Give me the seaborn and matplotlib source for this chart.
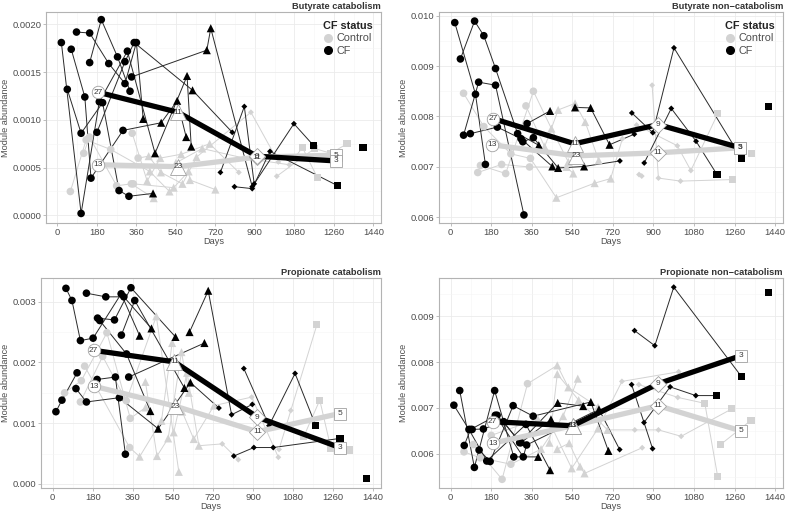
import numpy as np
import pandas as pd
import matplotlib
matplotlib.use("Agg")
import matplotlib.pyplot as plt
import seaborn as sns
from matplotlib.lines import Line2D
from matplotlib.ticker import FixedLocator, FormatStrFormatter

sns.set_theme(style="white")
plt.rcParams["font.family"] = ["Liberation Sans", "DejaVu Sans"]

# ---------------- data (days, module abundance) ----------------
# Butyrate catabolism
bc_cf = [
    [(18, .00181), (108, .00002), (191, .00119), (319, .00172), (445, .00065), (591, .00146), (610, .00072)],
    [(45, .00132), (108, .00086), (206, .00118), (281, .00026), (326, .00020), (436, .00023)],
    [(63, .00174), (125, .00124), (153, .00039), (299, .00089), (473, .00097), (546, .00120), (587, .00082)],
    [(87, .00192), (147, .00191), (234, .00159), (308, .00138), (360, .00181), (391, .00101)],
    [(147, .00160), (200, .00205), (274, .00166), (331, .00130)],
    [(180, .00087), (308, .00161), (350, .00181), (616, .00131), (797, .00087)],
    [(338, .00145), (681, .00173), (699, .00196), (888, .00030)],
    [(743, .00045), (852, .00114), (897, .00033), (1078, .00096), (1168, .00073)],
    [(807, .00030), (888, .00028), (969, .00067), (1278, .00031)],
    [(1393, .00071)],
]
bc_ctrl = [
    [(59, .00025), (131, .00079), (243, .00069), (421, .00046), (511, .00025)],
    [(120, .00065), (146, .00082), (270, .00031), (337, .00033), (439, .00018)],
    [(341, .00086), (409, .00036), (469, .00060), (564, .00064), (694, .00075), (827, .00045)],
    [(368, .00060), (416, .00062), (472, .00045), (570, .00033), (634, .00061), (882, .00108), (1007, .00056)],
    [(346, .00033), (530, .00029), (598, .00046), (604, .00037), (720, .00027)],
    [(540, .00055), (660, .00070), (850, .00060), (1057, .00053), (1117, .00071), (1184, .00040)],
    [(1000, .00041), (1172, .00070), (1247, .00065), (1320, .00075)],
]
bc_cf_mean_days = [185, 549, 909, 1270]
bc_cf_mean = [.00129, .00108, .00062, .00057]
bc_ctrl_mean_days = [185, 549, 909, 1270]
bc_ctrl_mean = [.00053, .00051, .00061, .00063]

# Butyrate non-catabolism
bn_cf = [
    [(18, .00986), (110, .00844), (154, .00705)],
    [(43, .00914), (106, .00989), (147, .00960), (199, .00895), (297, .00766), (391, .00743)],
    [(57, .00763), (124, .00868), (199, .00862), (325, .00605)],
    [(87, .00766), (207, .00779), (312, .00756), (451, .00701)],
    [(320, .00750), (367, .00758), (477, .00698), (592, .00701), (751, .00712)],
    [(339, .00786), (441, .00811)],
    [(552, .00818), (621, .00817), (705, .00744), (815, .00765)],
    [(804, .00807), (897, .00768), (991, .00936), (1291, .00717)],
    [(859, .00708), (979, .00816), (1089, .00751), (1182, .00685)],
    [(1410, .00819)],
]
bn_ctrl = [
    [(57, .00846), (147, .00780), (267, .00726), (354, .00717), (469, .00639), (639, .00668), (710, .00677), (762, .00756)],
    [(120, .00689), (226, .00705), (350, .00700), (514, .00700), (544, .00687)],
    [(132, .00703), (244, .00687), (367, .00850), (447, .00776), (522, .00710)],
    [(334, .00821), (417, .00740), (477, .00813), (552, .00826), (597, .00789), (657, .00713)],
    [(825, .00783), (1006, .00742), (1066, .00693), (1186, .00806)],
    [(836, .00685), (848, .00682)],
    [(894, .00862), (922, .00678), (1020, .00672), (1249, .00675)],
    [(1335, .00726)],
]
bn_cf_mean_days = [187, 550, 921, 1285]
bn_cf_mean = [.00796, .00746, .00784, .00738]
bn_ctrl_mean_days = [183, 555, 921, 1285]
bn_ctrl_mean = [.00744, .00722, .00728, .00738]

# Propionate catabolism
pc_cf = [
    [(60, .00322), (87, .00302), (125, .00236), (182, .00240), (308, .00313), (391, .00244)],
    [(152, .00314), (239, .00308), (320, .00308), (444, .00256)],
    [(202, .00273), (278, .00270), (352, .00323), (552, .00242)],
    [(212, .00269), (332, .00214), (439, .00120)],
    [(309, .00245), (369, .00302), (592, .00158)],
    [(15, .00119), (42, .00138), (110, .00183)],
    [(105, .00157), (152, .00135), (300, .00142), (474, .00091), (619, .00167), (747, .00125)],
    [(200, .00172), (282, .00176), (327, .00049)],
    [(342, .00176), (682, .00232)],
    [(615, .00250), (699, .00318), (804, .00114), (897, .00131)],
    [(859, .00190), (972, .00096), (1089, .00182), (1182, .00096)],
    [(814, .00046), (904, .00060), (991, .00060), (1291, .00075)],
    [(1410, .00009)],
]
pc_ctrl = [
    [(54, .00150), (129, .00170), (244, .00249), (349, .00108), (418, .00126)],
    [(125, .00135), (225, .00210), (331, .00137), (466, .00276), (567, .00020)],
    [(144, .00194), (346, .00060), (391, .00045), (489, .00104), (537, .00232)],
    [(417, .00168), (469, .00046), (519, .00075), (579, .00217), (612, .00150)],
    [(544, .00085), (604, .00183), (657, .00063), (762, .00066), (834, .00040)],
    [(582, .00119), (634, .00074), (725, .00129), (894, .00143), (1014, .00044)],
    [(1017, .00057), (1070, .00121), (1187, .00262)],
    [(1128, .00078), (1200, .00138), (1250, .00059), (1335, .00056)],
]
pc_cf_mean_days = [184, 547, 920, 1290]
pc_cf_mean = [.00220, .00201, .00110, .00060]
pc_ctrl_mean_days = [184, 552, 920, 1290]
pc_ctrl_mean = [.00161, .00128, .00086, .00116]

# Propionate non-catabolism
pn_cf = [
    [(14, .00706), (81, .00653), (160, .00584), (334, .00664), (441, .00564)],
    [(40, .00738), (105, .00570), (195, .00738), (280, .00593), (388, .00593)],
    [(60, .00618), (88, .00653), (206, .00684), (312, .00624), (445, .00675)],
    [(95, .00653), (145, .00654), (235, .00670), (306, .00624), (475, .00711), (588, .00704)],
    [(126, .00608), (175, .00583), (277, .00705), (366, .00682), (622, .00713), (700, .00606)],
    [(198, .00684), (322, .00593), (337, .00619), (658, .00697), (750, .00609)],
    [(803, .00751), (896, .00611)],
    [(816, .00869), (906, .00836), (990, .00964), (1290, .00769)],
    [(858, .00668), (974, .00746), (1088, .00727), (1178, .00727)],
    [(1409, .00953)],
]
pn_ctrl = [
    [(59, .00604), (131, .00591), (267, .00577), (401, .00610), (499, .00682), (564, .00764)],
    [(100, .00620), (228, .00544), (341, .00753), (473, .00793), (522, .00745), (654, .00702)],
    [(180, .00640), (386, .00676), (449, .00658), (537, .00568), (654, .00655), (760, .00758), (1012, .00779)],
    [(438, .00624), (473, .00774), (568, .00717), (696, .00652), (817, .00652), (922, .00652), (1023, .00638), (1248, .00698)],
    [(473, .00610), (526, .00623), (574, .00572), (594, .00557), (850, .00613)],
    [(835, .00751), (1008, .00723), (1128, .00710), (1185, .00550)],
    [(1198, .00620), (1333, .00673)],
]
pn_cf_mean_days = [186, 541, 921, 1287]
pn_cf_mean = [.00670, .00661, .00753, .00814]
pn_ctrl_mean_days = [186, 541, 921, 1287]
pn_ctrl_mean = [.00623, .00661, .00705, .00650]

cf_counts = [27, 11, 9, 3]
control_counts = [13, 23, 11, 5]
x_ticks = [0, 180, 360, 540, 720, 900, 1080, 1260, 1440]

# ---------------- style ----------------
CTRL_COL = "#D3D3D3"
CF_COL = "#000000"
CF_LINE = "#2a2a2a"
bins = ["circle", "triangle", "diamond", "square"]
bin_markers = {"circle": "o", "triangle": "^", "diamond": "D", "square": "s"}
bin_sizes = {"circle": 30, "triangle": 34, "diamond": 9, "square": 26}
label_ms = {"circle": 9.0, "triangle": 11.5, "diamond": 8.0, "square": 8.0}
TICK_FS = 6.8
LAB_FS = 6.6


def age_bin(d):
    if d < 380:
        return "circle"
    if d < 735:
        return "triangle"
    if d < 1100:
        return "diamond"
    return "square"


panels = [
    dict(title="Butyrate catabolism", cf=bc_cf, ctrl=bc_ctrl,
         cfm=(bc_cf_mean_days, bc_cf_mean), ctm=(bc_ctrl_mean_days, bc_ctrl_mean),
         ylim=(-0.00008, 0.00213), yticks=[0, .0005, .001, .0015, .002], fmt="%.4f",
         pos=[46 / 787, 292 / 515, 335 / 787, 211 / 515], legend=True),
    dict(title="Butyrate non\u2212catabolism", cf=bn_cf, ctrl=bn_ctrl,
         cfm=(bn_cf_mean_days, bn_cf_mean), ctm=(bn_ctrl_mean_days, bn_ctrl_mean),
         ylim=(0.00589, 0.01007), yticks=[.006, .007, .008, .009, .010], fmt="%.3f",
         pos=[439 / 787, 292 / 515, 344 / 787, 211 / 515], legend=True),
    dict(title="Propionate catabolism", cf=pc_cf, ctrl=pc_ctrl,
         cfm=(pc_cf_mean_days, pc_cf_mean), ctm=(pc_ctrl_mean_days, pc_ctrl_mean),
         ylim=(-0.000066, 0.00339), yticks=[0, .001, .002, .003], fmt="%.3f",
         pos=[41 / 787, 27 / 515, 340 / 787, 210 / 515], legend=False),
    dict(title="Propionate non\u2212catabolism", cf=pn_cf, ctrl=pn_ctrl,
         cfm=(pn_cf_mean_days, pn_cf_mean), ctm=(pn_ctrl_mean_days, pn_ctrl_mean),
         ylim=(0.00525, 0.00984), yticks=[.006, .007, .008, .009], fmt="%.3f",
         pos=[439 / 787, 27 / 515, 344 / 787, 210 / 515], legend=False),
]

fig = plt.figure(figsize=(7.87, 5.15), dpi=100)

for p in panels:
    ax = fig.add_axes(p["pos"])
    rows = []
    for status, trajs in (("Control", p["ctrl"]), ("CF", p["cf"])):
        for i, t in enumerate(trajs):
            for d, v in t:
                rows.append((f"{status}{i}", status, d, v, age_bin(d)))
    df = pd.DataFrame(rows, columns=["subject", "status", "day", "value", "bin"])

    # individual trajectories
    sns.lineplot(data=df, x="day", y="value", hue="status", hue_order=["Control", "CF"],
                 palette={"Control": CTRL_COL, "CF": CF_LINE}, units="subject",
                 estimator=None, linewidth=0.7, legend=False, ax=ax, zorder=2)
    # points
    sns.scatterplot(data=df, x="day", y="value", hue="status", hue_order=["Control", "CF"],
                    palette={"Control": CTRL_COL, "CF": CF_COL}, style="bin",
                    markers=bin_markers, size="bin", sizes=bin_sizes, linewidth=0,
                    legend=False, ax=ax, zorder=3)

    # mean lines
    mrows = []
    for status, (md, mv), counts in (("Control", p["ctm"], control_counts),
                                     ("CF", p["cfm"], cf_counts)):
        for b, d, v, n in zip(bins, md, mv, counts):
            mrows.append((status, d, v, b, n))
    mdf = pd.DataFrame(mrows, columns=["status", "day", "value", "bin", "n"])
    sns.lineplot(data=mdf, x="day", y="value", hue="status", hue_order=["Control", "CF"],
                 palette={"Control": CTRL_COL, "CF": CF_COL}, estimator=None, sort=False,
                 linewidth=3.8, legend=False, ax=ax, zorder=4)
    for line in ax.get_lines()[-2:]:
        line.set_solid_capstyle("butt")

    for _, r in mdf.iterrows():
        ax.plot(r["day"], r["value"], marker=bin_markers[r["bin"]], ms=label_ms[r["bin"]],
                mfc="white", mec="#A0A0A0", mew=0.6, ls="", zorder=5)
        ax.text(r["day"], r["value"], str(r["n"]), ha="center", va="center",
                fontsize=6.0, color="#3a3a3a", zorder=6)

    # axes styling
    ax.set_xlim(-52, 1475)
    ax.set_ylim(*p["ylim"])
    ax.xaxis.set_major_locator(FixedLocator(x_ticks))
    ax.xaxis.set_minor_locator(FixedLocator(np.arange(-90, 1530, 90)))
    yt = p["yticks"]
    step = yt[1] - yt[0]
    ax.yaxis.set_major_locator(FixedLocator(yt))
    ax.yaxis.set_minor_locator(FixedLocator(np.arange(yt[0] - step, yt[-1] + step * 1.01, step / 2)))
    ax.yaxis.set_major_formatter(FormatStrFormatter(p["fmt"]))
    ax.grid(which="major", color="#EBEBEB", linewidth=0.6)
    ax.grid(which="minor", color="#F5F5F5", linewidth=0.4)
    ax.set_axisbelow(True)
    for s in ax.spines.values():
        s.set_color("#B3B3B3")
        s.set_linewidth(0.8)
    ax.tick_params(which="major", length=2.2, width=0.6, color="#B3B3B3",
                   labelsize=TICK_FS, labelcolor="#4D4D4D", pad=1.2, bottom=True, left=True)
    ax.tick_params(which="minor", length=0)
    ax.set_xlabel("Days", fontsize=LAB_FS, color="#4D4D4D", labelpad=0.5)
    ax.set_ylabel("Module abundance", fontsize=LAB_FS, color="#4D4D4D", labelpad=1.5)
    ax.set_title(p["title"], loc="right", fontsize=6.7, fontweight="bold",
                 color="#333333", pad=2.5)

    if p["legend"]:
        handles = [Line2D([], [], marker="o", ls="", color=CTRL_COL, ms=5.5),
                   Line2D([], [], marker="o", ls="", color=CF_COL, ms=5.5)]
        leg = ax.legend(handles, ["Control", "CF"], title="CF status", loc="upper right",
                        frameon=False, fontsize=7.8, title_fontsize=7.8, handletextpad=0.3,
                        borderaxespad=0.4, labelspacing=0.25, handlelength=1.0,
                        alignment="left")
        leg.get_title().set_fontweight("bold")
        leg.get_title().set_color("#222222")
        for t in leg.get_texts():
            t.set_color("#4D4D4D")
        leg.set_zorder(10)

fig.savefig("out.png", dpi=100)
